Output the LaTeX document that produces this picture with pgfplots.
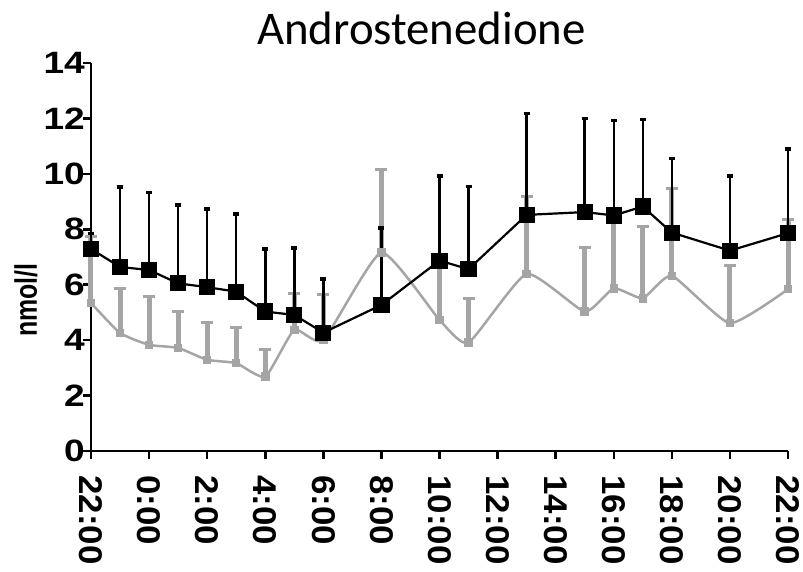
\documentclass[border=0pt]{standalone}
\usepackage{fontspec}
\setmainfont{Liberation Sans}
\newfontfamily\titlefont{Carlito}
\usepackage{pgfplots}
\usepackage{pgfplotstable}
\pgfplotsset{compat=1.18}
\definecolor{lgrey}{RGB}{165,165,165}
\pgfplotstableread{
x y e
0 5.34 2.40
1 4.26 1.62
2 3.83 1.74
3 3.72 1.31
4 3.29 1.33
5 3.17 1.27
6 2.68 0.97
7 4.37 1.33
8 4.00 1.65
10 7.16 2.98
12 4.73 2.07
13 3.91 1.58
15 6.39 2.79
17 5.03 2.30
18 5.87 2.63
19 5.51 2.59
20 6.32 3.16
22 4.61 2.09
24 5.84 2.50
}\greydata
\pgfplotstableread{
x y e
0 7.29 0.55
1 6.64 2.89
2 6.53 2.80
3 6.05 2.83
4 5.91 2.83
5 5.75 2.81
6 5.03 2.26
7 4.91 2.42
8 4.27 1.93
10 5.27 2.78
12 6.87 3.06
13 6.56 2.98
15 8.52 3.65
17 8.62 3.38
18 8.50 3.42
19 8.82 3.15
20 7.88 2.68
22 7.23 2.70
24 7.86 3.03
}\blackdata
\begin{document}
\begin{tikzpicture}
\begin{axis}[
  scale only axis, width=697bp, height=388bp,
  at={(0,0)}, anchor=south west,
  xmin=0, xmax=24, ymin=0, ymax=14,
  axis x line*=bottom, axis y line*=left,
  axis line style={line width=2.5bp, -},
  xtick={0,2,...,24},
  xticklabels={22:00,0:00,2:00,4:00,6:00,8:00,10:00,12:00,14:00,16:00,18:00,20:00,22:00},
  ytick={0,2,...,14},
  tick align=outside,
  major tick length=8bp,
  tick style={line width=2.5bp, black},
  /pgf/number format/assume math mode=true,
  yticklabel style={font=\bfseries\fontsize{31}{31}\selectfont, xscale=1.2, anchor=east, xshift=5bp},
  xticklabel style={font=\bfseries\fontsize{33}{33}\selectfont, rotate=-90, anchor=west, xscale=1.06, xshift=12bp},
  clip=false,
]
\addplot[lgrey, line width=2.5bp, smooth, tension=0.3, mark=square*, mark size=3bp,
  error bars/.cd, y dir=plus, y explicit,
  error bar style={line width=5bp, lgrey},
  error mark options={rotate=90, line width=3bp, mark size=6bp, lgrey}]
  table[x=x, y=y, y error=e] {\greydata};
\addplot[black, line width=2.2bp, mark=square*, mark size=7bp,
  error bars/.cd, y dir=plus, y explicit,
  error bar style={line width=2.5bp, black},
  error mark options={rotate=90, line width=3.5bp, mark size=3bp, black}]
  table[x=x, y=y, y error=e] {\blackdata};
\end{axis}
\node[anchor=base, font=\titlefont\fontsize{47}{47}\selectfont] at (330.5bp,406bp) {Androstenedione};
\node[rotate=90, yscale=1.25, font=\bfseries\fontsize{25}{25}\selectfont] at (-65bp,151bp) {nmol/l};
\pgfresetboundingbox
\path[use as bounding box] (-91bp,-121bp) rectangle (712bp,451bp);
\end{tikzpicture}
\end{document}
